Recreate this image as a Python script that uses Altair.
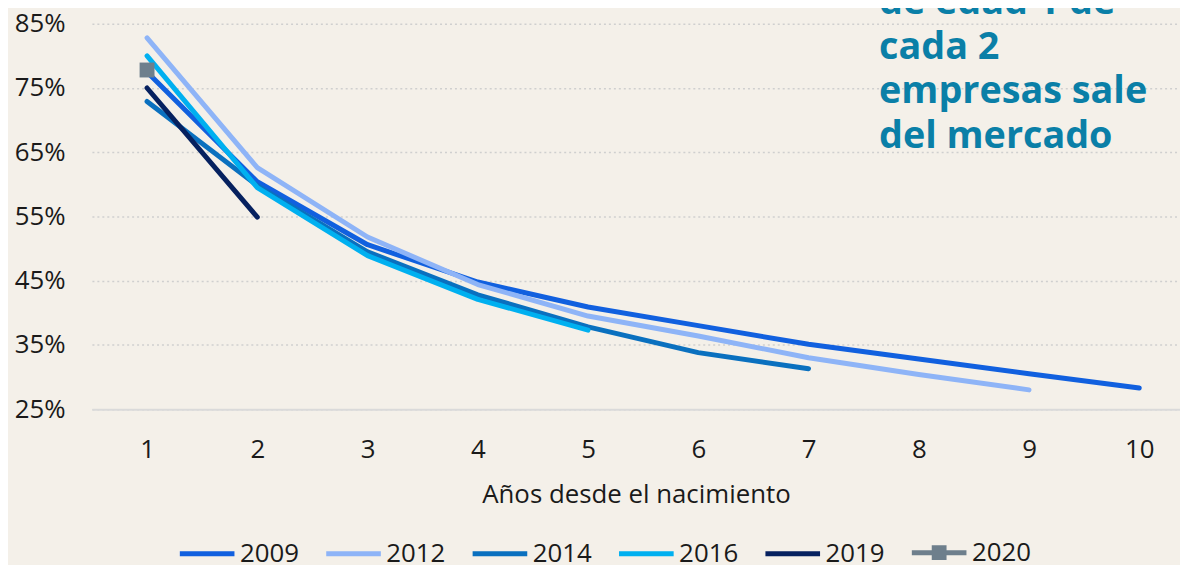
import altair as alt
import pandas as pd

# ---- data ----
years = [1, 2, 3, 4, 5, 6, 7, 8, 9, 10]
series_names = ["2009", "2012", "2014", "2016", "2019", "2020"]
s2009 = [77.5, 60.4, 50.6, 44.8, 40.9, 38.0, 35.1, 32.8, 30.5, 28.3]
s2012 = [82.8, 62.6, 51.8, 44.4, 39.5, 36.4, 33.0, 30.4, 28.0]
s2014 = [72.9, 59.8, 49.5, 42.8, 37.8, 33.8, 31.3]
s2016 = [80.0, 59.5, 48.9, 42.1, 37.3]
s2019 = [75.0, 54.9]
s2020 = [77.8]
y_ticks = [25, 35, 45, 55, 65, 75, 85]
annotation_lines = ["de edad 1 de", "cada 2", "empresas sale", "del mercado"]
x_title = "Años desde el nacimiento"

colors = ["#1160DF", "#8EB4F7", "#0A70BF", "#00B0F0", "#06215F", "#6E7F8C"]

rows = []
for name, vals in zip(series_names, [s2009, s2012, s2014, s2016, s2019, s2020]):
    for x, v in zip(years, vals):
        rows.append({"serie": name, "anio": x, "valor": v / 100})
df = pd.DataFrame(rows)

FONT = "Open Sans"
BG = "#F4F0E9"

x_scale = alt.Scale(domain=[0.5, 10.3694], nice=False, zero=False)
y_scale = alt.Scale(domain=[0.25, 0.8716], nice=False, zero=False)
color_scale = alt.Scale(domain=series_names, range=colors)

# legend glyph for 2020: a line with a (stroke-filled) square in the middle
square_path = (
    "M-1,0H1"
    "M-0.18,-0.18H0.18V0.18H-0.18Z"
    "M-0.09,-0.09H0.09V0.09H-0.09Z"
)
shape_scale = alt.Scale(domain=series_names, range=["stroke"] * 5 + [square_path])

legend = alt.Legend(
    title=None,
    orient="none",
    legendX=86,
    legendY=516.5,
    direction="horizontal",
    columns=6,
    symbolSize=3025,
    symbolStrokeWidth=5,
    symbolOpacity=1,
    labelFont=FONT,
    labelFontSize=26,
    labelColor="#1a1a1a",
    labelOffset=3,
    columnPadding=16.4,
)

base = alt.Chart(df)

lines = base.mark_line(strokeWidth=5, strokeCap="round", strokeJoin="round").encode(
    x=alt.X(
        "anio:Q",
        scale=x_scale,
        axis=alt.Axis(
            values=years,
            format="d",
            title=x_title,
            grid=False,
            ticks=False,
            domainColor="#DADADA",
            domainWidth=2,
            labelFont=FONT,
            labelFontSize=26,
            labelColor="#1a1a1a",
            labelPadding=28,
            titleFont=FONT,
            titleFontSize=26,
            titleFontWeight="normal",
            titleColor="#1a1a1a",
            titlePadding=19,
            labelFlush=False,
        ),
    ),
    y=alt.Y(
        "valor:Q",
        scale=y_scale,
        axis=alt.Axis(
            values=[v / 100 for v in y_ticks],
            format=".0%",
            title=None,
            domain=False,
            ticks=False,
            grid=True,
            gridColor="#CFCFCF",
            gridDash=[2, 3],
            gridWidth=1.5,
            labelFont=FONT,
            labelFontSize=26,
            labelColor="#1a1a1a",
            labelPadding=27,
        ),
    ),
    stroke=alt.Stroke("serie:N", scale=color_scale, legend=None, sort=series_names),
    order=alt.Order("anio:Q"),
)

# invisible layer only used to build the legend (line strokes + square for 2020)
legend_layer = base.mark_point(opacity=0, strokeWidth=5, filled=False).encode(
    x=alt.X("anio:Q", scale=x_scale),
    y=alt.Y("valor:Q", scale=y_scale),
    color=alt.Color("serie:N", scale=color_scale, legend=legend, sort=series_names),
    shape=alt.Shape("serie:N", scale=shape_scale, legend=legend, sort=series_names),
)

square = (
    base.transform_filter(alt.datum.serie == "2020")
    .mark_square(size=225, filled=True, opacity=1, color="#6E7F8C")
    .encode(x=alt.X("anio:Q", scale=x_scale), y=alt.Y("valor:Q", scale=y_scale))
)

note_df = pd.DataFrame({"t": [annotation_lines]})
note = (
    alt.Chart(note_df)
    .mark_text(
        font=FONT,
        fontSize=38,
        fontWeight="bold",
        color="#0A7FA7",
        align="left",
        baseline="alphabetic",
        lineHeight=45,
    )
    .encode(text="t", x=alt.value(792.5), y=alt.value(4))
)

chart = (
    alt.layer(lines, legend_layer, square, note)
    .resolve_scale(color="independent", shape="independent")
    .resolve_legend(color="independent", shape="independent")
    .properties(
        width=1095.5,
        height=402,
        autosize=alt.AutoSizeParams(type="none"),
        padding={"left": 84.5, "top": 0, "right": 0, "bottom": 155},
        background=BG,
    )
    .configure_view(stroke=None)
)

chart.save("out.html", embed_options={"renderer": "svg", "actions": False})
